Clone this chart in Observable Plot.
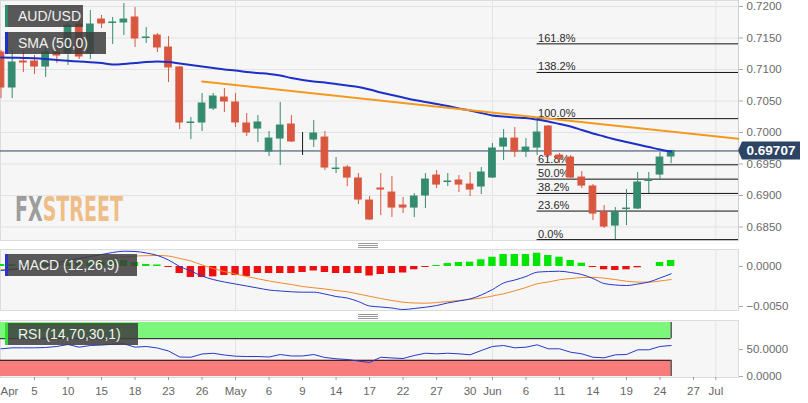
<!DOCTYPE html>
<html><head><meta charset="utf-8">
<script src="https://cdn.jsdelivr.net/npm/d3@7"></script>
<script src="https://cdn.jsdelivr.net/npm/@observablehq/plot@0.6"></script>
<style>
body{margin:0;background:#fff;font-family:"Liberation Sans",Arial,sans-serif}
#wrap{position:relative;width:808px;height:403px;overflow:hidden;background:#fff}
.panel{position:absolute;left:0}
.lbl{position:absolute;left:5px;height:22px;background:rgba(62,62,62,0.86);color:#f2f2f2;font-size:14px;line-height:22px;padding-left:10px;box-sizing:border-box;border-left:3px solid;white-space:nowrap}
</style></head><body><div id="wrap"></div>
<script>
// ---------- DATA ----------
const dates = ["2019-04-02","2019-04-03","2019-04-04","2019-04-05","2019-04-08","2019-04-09","2019-04-10","2019-04-11","2019-04-12","2019-04-15","2019-04-16","2019-04-17","2019-04-18","2019-04-19","2019-04-22","2019-04-23","2019-04-24","2019-04-25","2019-04-26","2019-04-29","2019-04-30",
"2019-05-01","2019-05-02","2019-05-03","2019-05-06","2019-05-07","2019-05-08","2019-05-09","2019-05-10","2019-05-13","2019-05-14","2019-05-15","2019-05-16","2019-05-17","2019-05-20","2019-05-21","2019-05-22","2019-05-23","2019-05-24","2019-05-27","2019-05-28","2019-05-29","2019-05-30","2019-05-31",
"2019-06-03","2019-06-04","2019-06-05","2019-06-06","2019-06-07","2019-06-10","2019-06-11","2019-06-12","2019-06-13","2019-06-14","2019-06-17","2019-06-18","2019-06-19","2019-06-20","2019-06-21","2019-06-24","2019-06-25"];
const futureDates = ["2019-06-26","2019-06-27","2019-06-28","2019-07-01","2019-07-02","2019-07-03"];

const open = [0.71270,0.70714,0.71127,0.71127,0.71047,0.71270,0.71254,0.71714,0.71254,0.71793,
0.71738,0.71746,0.71825,0.71500,0.71539,0.71349,0.71032,0.70151,0.70159,0.70381,
0.70555,0.70476,0.70143,0.70063,0.69698,0.69904,0.70127,0.69857,0.69888,0.69920,
0.69420,0.69444,0.69270,0.68920,0.69111,0.69047,0.68841,0.68809,0.69000,0.69317,
0.69214,0.69238,0.69174,0.69143,0.69285,0.69777,0.69904,0.69698,0.69761,0.70095,
0.69635,0.69603,0.69285,0.69143,0.68730,0.68523,0.68785,0.68793,0.69230,0.69333,0.69619];
const high = [0.71301,0.71301,0.71301,0.71222,0.71349,0.71381,0.71746,0.71778,0.71936,0.71857,
0.71825,0.72047,0.71984,0.71667,0.71571,0.71524,0.71047,0.70238,0.70619,0.70619,
0.70698,0.70619,0.70301,0.70270,0.70016,0.70476,0.70270,0.70000,0.70190,0.70016,
0.69603,0.69476,0.69349,0.68984,0.69349,0.69301,0.68968,0.69031,0.69349,0.69397,
0.69349,0.69317,0.69365,0.69444,0.69825,0.70047,0.70079,0.69904,0.70206,0.70111,
0.69666,0.69635,0.69381,0.69174,0.68841,0.68809,0.69095,0.69365,0.69365,0.69682,0.69714];
const low = [0.70539,0.70539,0.70952,0.70920,0.70873,0.71095,0.71063,0.71159,0.71159,0.71651,
0.71397,0.71539,0.71349,0.71413,0.71270,0.70793,0.70047,0.69888,0.70016,0.70349,
0.70317,0.70079,0.69936,0.69841,0.69619,0.69476,0.69841,0.69635,0.69761,0.69397,
0.69349,0.69143,0.68857,0.68603,0.68682,0.68650,0.68714,0.68650,0.68793,0.69111,
0.69143,0.69047,0.68984,0.69016,0.69270,0.69555,0.69603,0.69603,0.69635,0.69603,
0.69507,0.69270,0.69111,0.68603,0.68476,0.68301,0.68523,0.68777,0.69031,0.69254,0.69507];
const close = [0.70714,0.71111,0.71111,0.71047,0.71270,0.71222,0.71698,0.71206,0.71714,0.71730,
0.71746,0.71793,0.71492,0.71508,0.71349,0.71032,0.70159,0.70159,0.70460,0.70571,
0.70492,0.70159,0.70000,0.70159,0.69904,0.70111,0.69857,0.69857,0.69984,0.69444,
0.69428,0.69285,0.68936,0.68619,0.69095,0.68809,0.68809,0.68984,0.69254,0.69174,
0.69222,0.69174,0.69095,0.69365,0.69746,0.69904,0.69698,0.69761,0.70000,0.69635,
0.69587,0.69285,0.69158,0.68714,0.68507,0.68730,0.68793,0.69206,0.69238,0.69603,0.69707];
const sma50 = [0.71190,0.71186,0.71183,0.71179,0.71167,0.71151,0.71138,0.71127,0.71114,0.71103,
0.71079,0.71087,0.71103,0.71119,0.71127,0.71119,0.71095,0.71071,0.71048,0.71024,
0.71000,0.70984,0.70960,0.70944,0.70929,0.70905,0.70865,0.70833,0.70810,0.70794,
0.70770,0.70746,0.70722,0.70683,0.70635,0.70595,0.70556,0.70516,0.70484,0.70452,
0.70421,0.70381,0.70349,0.70310,0.70270,0.70254,0.70238,0.70230,0.70206,0.70175,
0.70135,0.70095,0.70040,0.69984,0.69937,0.69889,0.69849,0.69810,0.69770,0.69730,0.69698];
const macdLine = [-0.00050,-0.00038,-0.00025,-0.00013,0.00013,0.00044,0.00075,0.00100,0.00125,0.00150,
0.00175,0.00191,0.00188,0.00169,0.00138,0.00081,0.00000,-0.00056,-0.00119,-0.00163,
-0.00194,-0.00219,-0.00244,-0.00269,-0.00294,-0.00306,-0.00316,-0.00321,-0.00321,-0.00344,
-0.00375,-0.00394,-0.00438,-0.00494,-0.00506,-0.00519,-0.00538,-0.00525,-0.00509,-0.00488,
-0.00456,-0.00431,-0.00406,-0.00356,-0.00288,-0.00206,-0.00169,-0.00125,-0.00071,-0.00063,
-0.00059,-0.00075,-0.00100,-0.00150,-0.00213,-0.00231,-0.00238,-0.00219,-0.00194,-0.00144,-0.00091];
const signalLine = [-0.00041,-0.00031,-0.00019,-0.00006,0.00006,0.00019,0.00038,0.00056,0.00075,0.00094,
0.00109,0.00119,0.00131,0.00135,0.00138,0.00131,0.00100,0.00069,0.00019,-0.00025,
-0.00063,-0.00094,-0.00125,-0.00154,-0.00181,-0.00204,-0.00225,-0.00250,-0.00266,-0.00281,
-0.00300,-0.00316,-0.00344,-0.00372,-0.00400,-0.00425,-0.00446,-0.00456,-0.00459,-0.00450,
-0.00438,-0.00425,-0.00409,-0.00394,-0.00369,-0.00341,-0.00304,-0.00263,-0.00216,-0.00194,
-0.00166,-0.00150,-0.00138,-0.00135,-0.00146,-0.00163,-0.00184,-0.00194,-0.00196,-0.00181,-0.00163];
const macdHist = [0.00025,0.00025,0.00025,0.00025,0.000375,0.000375,0.0005,0.0005,0.000625,0.000625,
0.00075,0.00075,0.0005,0.00025,0.00019,-0.000125,-0.000875,-0.001375,-0.001375,-0.0013,
-0.001125,-0.001125,-0.00125,-0.000875,-0.000875,-0.000875,-0.000875,-0.00075,-0.00056,-0.00075,
-0.000875,-0.000875,-0.000875,-0.00119,-0.001,-0.000875,-0.00081,-0.00041,-0.000125,0.000125,
0.000375,0.0005,0.00054,0.00084,0.00116,0.0015,0.0015,0.0015,0.00166,0.001375,
0.00116,0.00075,0.00041,-0.000125,-0.00041,-0.0005,-0.00041,-0.00016,0,0.0005,0.00075];
const rsi = [51.3,53.1,53.1,53.1,53.7,55.6,59.3,54.3,57.4,58.3,
59.6,60.6,54.3,55.6,52.8,47.2,36.1,35.7,41.7,43.0,
39.8,37.6,37.0,37.0,36.1,40.7,38.0,38.0,40.7,35.2,
32.8,31.5,28.7,25.9,35.7,34.3,33.3,38.9,43.1,42.0,
43.1,42.0,40.2,48.1,55.6,57.4,53.1,54.3,58.7,51.3,
51.3,45.0,42.0,35.7,34.6,40.2,40.7,49.4,49.4,55.6,57.4];

const fibLabels = ["0.0%","23.6%","38.2%","50.0%","61.8%","100.0%","138.2%","161.8%"];
const fibPrices = [0.68300,0.68753,0.69033,0.69260,0.69487,0.70220,0.70953,0.71407];
const fibStartDate = "2019-06-07";
const trendDates = ["2019-04-26","2019-07-03"];
const trendPrices = [0.70810,0.69900];

const priceTicks = [0.685,0.690,0.695,0.700,0.705,0.710,0.715,0.720];
const macdTicks = [0,-0.005];
const rsiTicks = [0,50];
const rsiUpper = 70, rsiLower = 30, rsiMax = 100, rsiMin = 0;
const tickDates = ["2019-04-05","2019-04-10","2019-04-15","2019-04-18","2019-04-23","2019-04-26","2019-05-01","2019-05-06","2019-05-09","2019-05-14","2019-05-17","2019-05-22","2019-05-27","2019-05-30","2019-06-03","2019-06-06","2019-06-11","2019-06-14","2019-06-19","2019-06-24","2019-06-27","2019-07-01"];
const tickLabels = ["5","10","15","18","23","26","May","6","9","14","17","22","27","30","Jun","6","11","14","19","24","27","Jul"];
const firstMonthLabel = "Apr";
const monthDates = ["2019-05-01","2019-06-03","2019-07-01"];

// ---------- BUILD ----------
const calendar = dates.concat(futureDates);
const pos = d => calendar.indexOf(d);
const xDomain = [-0.045, 66.03];
const GREEN = "#358b6f", RED = "#d9573f";
const candles = dates.map((d,k)=>({p:pos(d),o:open[k],h:high[k],l:low[k],c:close[k]}));
const ccol = d => d.c > d.o ? GREEN : d.c < d.o ? RED : "#1a1a1a";
const series = (arr) => dates.map((d,k)=>({p:pos(d), v:arr[k]}));
const tickPos = tickDates.map(pos);
const monthPos = monthDates.map(pos);
const fibPos = pos(fibStartDate);
const trend = trendDates.map((d,k)=>({p:pos(d), v:trendPrices[k]}));
const lastPos = pos(dates[dates.length-1]);
const lastClose = close[close.length-1];
const axisStyle = {fontFamily:"Liberation Sans, Arial, sans-serif", fontSize:"11.5px", color:"#6a6a6a", background:"transparent", overflow:"visible"};

const wrap = document.getElementById("wrap");

const main = Plot.plot({
  width:808, height:240, marginLeft:0, marginRight:70, marginTop:0, marginBottom:0,
  style: axisStyle,
  x:{domain:xDomain, axis:null, label:null},
  y:{domain:[0.68286,0.72095], axis:null, label:null},
  marks:[
    Plot.frame({fill:"#f6f6f6", stroke:"#dcdcdc"}),
    Plot.gridY(priceTicks, {stroke:"#e3e3e3", strokeOpacity:1}),
    Plot.gridX(monthPos, {stroke:"#e3e3e3", strokeOpacity:1}),
    Plot.axisY(priceTicks, {anchor:"right", label:null, tickSize:4, tickPadding:4, tickFormat:d3.format(".4f"), stroke:"#aaa", fill:"#6a6a6a"}),
    Plot.ruleX([xDomain[1]], {stroke:"#cfcfcf"}),
    Plot.ruleY(fibPrices, {y:d=>d, x1:()=>fibPos, x2:()=>xDomain[1], stroke:"#111", strokeWidth:1}),
    Plot.text(fibPrices, {x:()=>fibPos, y:d=>d, text:(d,i)=>fibLabels[i], textAnchor:"start", lineAnchor:"bottom", dx:1, dy:-2, fill:"#2a2a2a", fontSize:11}),
    Plot.ruleY([lastClose], {stroke:"#2d4060", strokeWidth:1}),
    Plot.ruleX(candles, {x:"p", y1:"l", y2:"h", stroke:ccol, strokeWidth:1}),
    Plot.rect(candles, {x1:d=>d.p-0.3, x2:d=>d.p+0.3, y1:"o", y2:"c", fill:ccol, stroke:ccol, strokeWidth:1}),
    Plot.line(series(sma50), {x:"p", y:"v", stroke:"#1c30c8", strokeWidth:2, curve:"monotone-x"}),
    Plot.line(trend, {x:"p", y:"v", stroke:"#f39a1e", strokeWidth:2})
  ]
});
main.classList.add("panel"); main.style.top = "0px";
wrap.appendChild(main);

// last price tag
const yc = main.scale("y").apply(lastClose);
const xr = main.scale("x").apply(xDomain[1]);
const svgM = d3.select(main);
svgM.append("path")
  .attr("d", `M${xr},${yc} L${xr+4},${yc-9} L${xr+62},${yc-9} L${xr+62},${yc+9} L${xr+4},${yc+9} Z`)
  .attr("fill","#2d4464");
svgM.append("text").attr("x", xr+33).attr("y", yc).attr("dy","0.36em").attr("text-anchor","middle")
  .attr("fill","#fff").attr("font-weight","bold").attr("font-size","13.5px")
  .attr("font-family","Liberation Sans, Arial, sans-serif").text(lastClose.toFixed(5));

const macd = Plot.plot({
  width:808, height:61, marginLeft:0, marginRight:70, marginTop:0, marginBottom:0,
  style: axisStyle,
  x:{domain:xDomain, axis:null, label:null},
  y:{domain:[-0.0055,0.002125], axis:null, label:null},
  marks:[
    Plot.frame({fill:"#f6f6f6", stroke:"#dcdcdc"}),
    Plot.gridX(monthPos, {stroke:"#e3e3e3", strokeOpacity:1}),
    Plot.axisY(macdTicks, {anchor:"right", label:null, tickSize:4, tickPadding:4, tickFormat:d3.format(".4f"), stroke:"#aaa", fill:"#6a6a6a"}),
    Plot.rect(series(macdHist), {x1:d=>d.p-0.33, x2:d=>d.p+0.33, y1:()=>0, y2:"v", fill:d=>d.v>=0?"#00e600":"#ee1010"}),
    Plot.line(series(signalLine), {x:"p", y:"v", stroke:"#f08a2c", strokeWidth:1, curve:"monotone-x"}),
    Plot.line(series(macdLine), {x:"p", y:"v", stroke:"#2638c8", strokeWidth:1, curve:"monotone-x"})
  ]
});
macd.classList.add("panel"); macd.style.top = "249px";
wrap.appendChild(macd);

const rsiChart = Plot.plot({
  width:808, height:83, marginLeft:0, marginRight:70, marginTop:0, marginBottom:26,
  style: axisStyle,
  x:{domain:xDomain, axis:null, label:null},
  y:{domain:[-1.85,103.7], axis:null, label:null},
  marks:[
    Plot.frame({fill:"#f6f6f6", stroke:"#dcdcdc"}),
    Plot.gridX(monthPos, {stroke:"#e3e3e3", strokeOpacity:1}),
    Plot.rect([{a:rsiUpper,b:rsiMax,f:"#7cf77c"},{a:rsiMin,b:rsiLower,f:"#f87c7c"}], {x1:()=>xDomain[0], x2:()=>lastPos, y1:"a", y2:"b", fill:"f"}),
    Plot.ruleY([rsiUpper, rsiLower], {x1:()=>xDomain[0], x2:()=>lastPos, stroke:"#111", strokeWidth:1}),
    Plot.ruleX([{a:rsiUpper,b:rsiMax},{a:rsiMin,b:rsiLower}], {x:()=>lastPos, y1:"a", y2:"b", stroke:"#111", strokeWidth:1}),
    Plot.line(series(rsi), {x:"p", y:"v", stroke:"#2638c8", strokeWidth:1}),
    Plot.axisY(rsiTicks, {anchor:"right", label:null, tickSize:4, tickPadding:4, tickFormat:d3.format(".4f"), stroke:"#aaa", fill:"#6a6a6a"}),
    Plot.axisX(tickPos, {anchor:"bottom", label:null, tickSize:3, tickPadding:6, tickFormat:d=>tickLabels[tickPos.indexOf(d)], stroke:"#999", fill:"#666"}),
    Plot.axisX([xDomain[0]], {anchor:"bottom", label:null, tickSize:0, tickPadding:9, textAnchor:"start", tickFormat:()=>firstMonthLabel, fill:"#666"})
  ]
});
rsiChart.classList.add("panel"); rsiChart.style.top = "320px";
wrap.appendChild(rsiChart);

// overlays: separators and FXStreet watermark
const ov = d3.select(wrap).append("svg").attr("width",808).attr("height",403)
  .style("position","absolute").style("left","0").style("top","0").style("pointer-events","none");
[243,245,247,314,316,318].forEach(y=>{
  ov.append("line").attr("x1",358).attr("x2",378).attr("y1",y+0.5).attr("y2",y+0.5).attr("stroke","#999").attr("stroke-width",1);
});
const wmG = ov.append("g");
const wm = wmG.append("text").attr("x",0).attr("y",0)
  .attr("font-family","DejaVu Sans Condensed, DejaVu Sans, sans-serif")
  .attr("font-weight","bold").attr("font-size","33px");
wm.append("tspan").attr("fill","#9d9d9d").text("FX");
wm.append("tspan").attr("fill","#efbe88").text("STREET");
const natural = wm.node().getComputedTextLength() || 150;
wmG.attr("transform", `translate(15,221) scale(${108/natural},1)`);

// legend labels
const labels = [
  {t:"AUD/USD", top:5, w:78, c:"#2e8b6d"},
  {t:"SMA (50,0)", top:32, w:101, c:"#1c30c8"},
  {t:"MACD (12,26,9)", top:254, w:132, c:"#2638c8"},
  {t:"RSI (14,70,30,1)", top:323, w:133, c:"#33dd33"}
];
labels.forEach(l=>{
  const d = document.createElement("div");
  d.className = "lbl"; d.textContent = l.t;
  d.style.top = l.top+"px"; d.style.width = l.w+"px"; d.style.borderLeftColor = l.c;
  wrap.appendChild(d);
});
</script></body></html>
